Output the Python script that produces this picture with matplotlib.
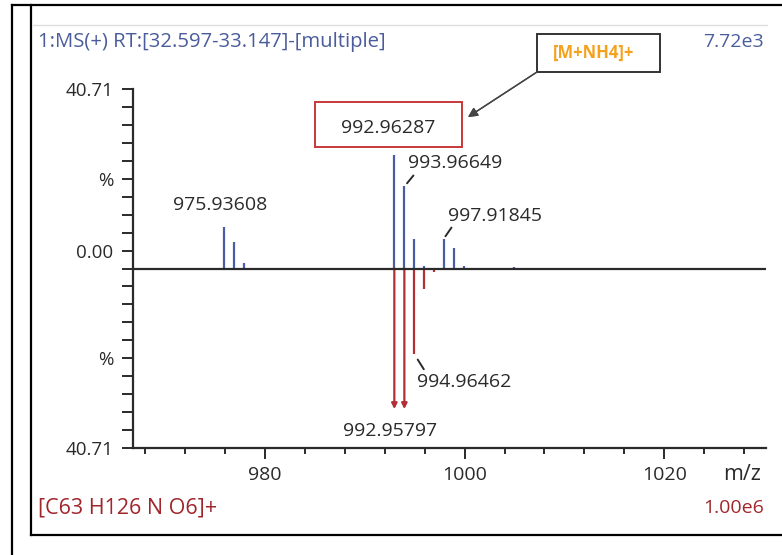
import matplotlib
matplotlib.use("Agg")
import matplotlib.pyplot as plt
from matplotlib.patches import Rectangle
from matplotlib.lines import Line2D
from matplotlib.ticker import FixedLocator, FixedFormatter

plt.rcParams['font.family'] = ['Open Sans', 'DejaVu Sans']

# ---------------- data ----------------
obs_mz = [975.936, 976.94, 977.94, 992.963, 993.966, 994.97, 995.97,
          997.918, 998.92, 999.92, 1004.9]
obs_int = [9.50, 6.11, 1.36, 25.78, 18.6, 6.79, 0.5, 6.79, 4.68, 0.5, 0.4]

theo_mz = [992.958, 993.961, 994.965, 995.968, 996.97]
theo_int = [31.89, 31.89, 19.45, 4.75, 0.9]
theo_arrow = [True, True, False, False, False]

y_full = 40.71
x_min, x_max = 966.77, 1030.2
x_major = [980, 1000, 1020]
x_minor = [968, 972, 976, 984, 988, 992, 996, 1004, 1008, 1012, 1016, 1024, 1028]

header_left = "1:MS(+) RT:[32.597-33.147]-[multiple]"
header_right = "7.72e3"
footer_left = "[C63 H126 N O6]+"
footer_right = "1.00e6"
adduct_label = "[M+NH4]+"

obs_labels = [("975.93608", 975.49, 14.47, 'center'),
              ("993.96649", 994.34, 23.97, 'left'),
              ("997.91845", 998.35, 11.99, 'left')]
theo_labels = [("994.96462", 995.24, -25.78, 'left'),
               ("992.95797", 992.53, -36.87, 'center')]
boxed_label = ("992.96287", 992.38, 31.89)

BLUE = '#4a5ca6'
RED = '#b03035'
TXT_BLUE = '#4a5c9c'
TXT_RED = '#a0262b'
DARK = '#2a2a2a'

FS = 14

W, H = 782, 555
fig = plt.figure(figsize=(W / 100, H / 100), dpi=100)


def fx(x):
    return x / W


def fy(y):
    return 1 - y / H


# frame lines
for (x0, y0, x1, y1) in [(12, 5, 782, 5), (12, 5, 12, 555),
                         (31, 5, 31, 535), (31, 535, 782, 535)]:
    fig.add_artist(Line2D([fx(x0), fx(x1)], [fy(y0), fy(y1)],
                          color='black', lw=1.6, transform=fig.transFigure))
fig.add_artist(Line2D([fx(33), fx(767)], [fy(25), fy(25)], color='#dedede',
                      lw=1.0, transform=fig.transFigure))

# header / footer
fig.text(fx(38), fy(42), header_left, color=TXT_BLUE, fontsize=14.6,
         ha='left', va='center')
fig.text(fx(764), fy(42), header_right, color=TXT_BLUE, fontsize=FS,
         ha='right', va='center')
fig.text(fx(38), fy(508), footer_left, color=TXT_RED, fontsize=15.5,
         ha='left', va='center')
fig.text(fx(764), fy(508), footer_right, color=TXT_RED, fontsize=FS,
         ha='right', va='center')
fig.text(fx(742), fy(474), "m/z", color=DARK, fontsize=15.5,
         ha='center', va='center')

# main axes
ax = fig.add_axes([fx(133), fy(448), fx(766) - fx(133), fy(89) - fy(448)])
ax.set_xlim(x_min, x_max)
ax.set_ylim(-y_full, y_full)
for s in ['top', 'right']:
    ax.spines[s].set_visible(False)
for s in ['left', 'bottom']:
    ax.spines[s].set_linewidth(1.6)
    ax.spines[s].set_color(DARK)

step = y_full / 10
yt = [i * step for i in range(-10, 11)]
ylab = []
for i in range(-10, 11):
    if abs(i) == 10:
        ylab.append("40.71")
    elif abs(i) == 5:
        ylab.append("%")
    elif i == 1:
        ylab.append("0.00")
    else:
        ylab.append("")
ax.yaxis.set_major_locator(FixedLocator(yt))
ax.yaxis.set_major_formatter(FixedFormatter(ylab))
ax.tick_params(axis='y', length=8, width=1.4, color=DARK, pad=6,
               labelsize=13.5, labelcolor=DARK)

ax.xaxis.set_major_locator(FixedLocator(x_major))
ax.xaxis.set_minor_locator(FixedLocator(x_minor))
ax.tick_params(axis='x', which='major', length=8, width=1.4, color=DARK,
               pad=5, labelsize=FS, labelcolor=DARK)
ax.tick_params(axis='x', which='minor', length=4.5, width=1.4, color=DARK)

# baseline
ax.axhline(0, color=DARK, lw=1.6, zorder=3)

# observed (blue, up)
ax.vlines(obs_mz, 0, obs_int, color=BLUE, lw=1.6, zorder=2)

# theoretical (red, down)
for mz, v, arr in zip(theo_mz, theo_int, theo_arrow):
    if arr:
        ax.annotate('', xy=(mz, -v), xytext=(mz, 0),
                    arrowprops=dict(arrowstyle='-|>', color=RED, lw=1.6,
                                    mutation_scale=8, shrinkA=0, shrinkB=0),
                    zorder=2)
    else:
        ax.vlines(mz, -v, 0, color=RED, lw=1.6, zorder=2)

# labels
for t, x, y, ha in obs_labels + theo_labels:
    ax.text(x, y, t, ha=ha, va='center', fontsize=FS, color=DARK)
t, x, y = boxed_label
ax.text(x, y, t, ha='center', va='center', fontsize=FS, color=DARK)

# leader lines
leaders = [(obs_mz[4], obs_int[4], (6.5, 7.9), 3),
           (obs_mz[7], obs_int[7], (5.5, 7.9), 2),
           (theo_mz[2], -theo_int[2], (6.8, -10.8), 4.5)]
for mz, v, off, sh in leaders:
    ax.annotate('', xy=(mz, v), xytext=off, textcoords='offset points',
                arrowprops=dict(arrowstyle='-', color=DARK, lw=1.4,
                                shrinkA=0, shrinkB=sh))

# red box around 992.96287
fig.add_artist(Rectangle((fx(315), fy(147)), fx(462) - fx(315),
                         fy(102) - fy(147), fill=False, edgecolor='#c8383a',
                         lw=1.4, transform=fig.transFigure))

# adduct box with arrow
fig.add_artist(Rectangle((fx(537), fy(72)), fx(660) - fx(537),
                         fy(34) - fy(72), fill=False, edgecolor='#333333',
                         lw=1.4, transform=fig.transFigure))
fig.text(fx(594), fy(53), adduct_label, color='#f5a11c', fontsize=12,
         fontweight='bold', ha='center', va='center')
fig.add_artist(plt.annotate('', xy=(fx(468), fy(117)), xycoords='figure fraction',
                            xytext=(fx(537), fy(72)), textcoords='figure fraction',
                            arrowprops=dict(arrowstyle='-|>', color='#444444',
                                            lw=1.0, mutation_scale=14,
                                            shrinkA=0, shrinkB=0)))

fig.savefig("out.png", dpi=100)
